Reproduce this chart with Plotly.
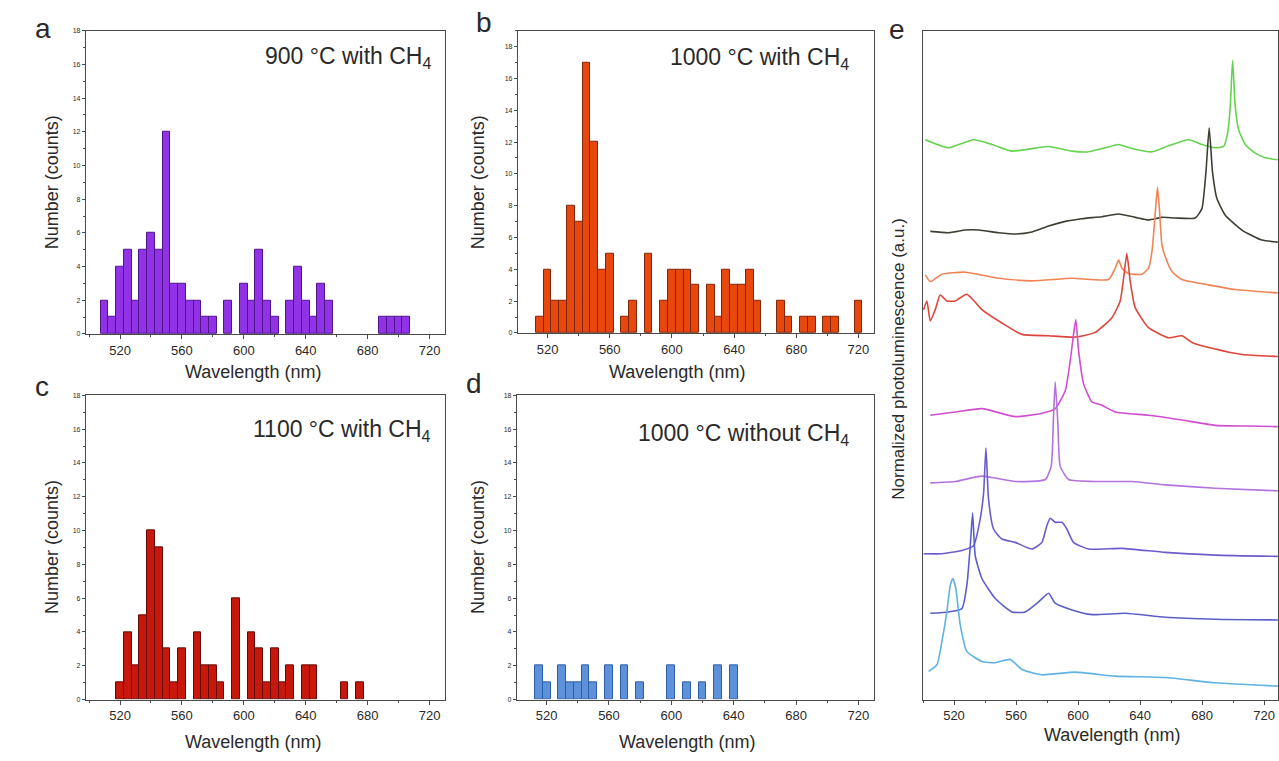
import plotly.graph_objects as go

# ---------------- data ----------------
# histogram bin centres (nm) and counts, 5 nm bins
a_centers = [510, 515, 520, 525, 530, 535, 540, 545, 550, 555, 560, 565, 570, 575, 580, 590,
             600, 605, 610, 615, 620, 630, 635, 640, 645, 650, 655, 690, 695, 700, 705]
a_counts = [2, 1, 4, 5, 2, 5, 6, 5, 12, 3, 3, 2, 2, 1, 1, 2,
            3, 2, 5, 2, 1, 2, 4, 2, 1, 3, 2, 1, 1, 1, 1]

b_centers = [515, 520, 525, 530, 535, 540, 545, 550, 555, 560, 570, 575, 585, 595, 600, 605,
             610, 615, 625, 630, 635, 640, 645, 650, 655, 670, 675, 685, 690, 700, 705, 720]
b_counts = [1, 4, 2, 2, 8, 7, 17, 12, 4, 5, 1, 2, 5, 2, 4, 4,
            4, 3, 3, 1, 4, 3, 3, 4, 2, 2, 1, 1, 1, 1, 1, 2]

c_centers = [520, 525, 530, 535, 540, 545, 550, 555, 560, 570, 575, 580, 585, 595, 605, 610,
             615, 620, 625, 630, 640, 645, 665, 675]
c_counts = [1, 4, 2, 5, 10, 9, 3, 1, 3, 4, 2, 2, 1, 6, 4, 3,
            1, 3, 1, 2, 2, 2, 1, 1]

d_centers = [515, 520, 530, 535, 540, 545, 550, 560, 570, 580, 600, 610, 620, 630, 640]
d_counts = [2, 1, 2, 1, 1, 2, 1, 2, 2, 1, 2, 1, 1, 2, 2]

x_ticks = [520, 560, 600, 640, 680, 720]
x_minor = [500, 540, 580, 620, 660, 700]
y_ticks = [0, 2, 4, 6, 8, 10, 12, 14, 16, 18]

# panel e: stacked normalized PL spectra (wavelength nm, offset intensity a.u.)
green_x = [501.5, 516.5, 532.6, 544.5, 557.4, 568.1, 581.0, 596.1, 606.8, 617.6, 626.2, 634.8,
           647.7, 658.4, 671.3, 679.9, 688.5, 693.9, 696.5, 698.2, 699.7, 701.4, 703.6, 707.9,
           714.3, 720.8, 728.9]
green_y = [83.7, 82.5, 83.7, 83.0, 82.0, 82.3, 82.7, 82.0, 81.9, 82.5, 83.0, 82.4,
           81.9, 82.8, 83.7, 83.0, 82.5, 82.7, 84.7, 88.7, 95.6, 88.7, 85.2, 83.0,
           81.7, 81.0, 80.7]

dark_x = [504.7, 516.5, 527.3, 535.9, 548.8, 559.5, 570.3, 581.0, 591.8, 602.5, 615.4, 626.2,
          636.9, 645.5, 654.1, 662.7, 675.6, 679.9, 682.5, 684.6, 686.8, 689.6, 695.0, 705.7,
          718.6, 728.9]
dark_y = [70.0, 69.8, 70.2, 70.2, 69.8, 69.6, 69.9, 70.8, 71.5, 71.9, 72.2, 72.6,
          72.1, 71.7, 72.1, 72.0, 72.0, 73.4, 78.8, 85.5, 78.8, 74.9, 72.4, 70.2,
          68.7, 68.4]

salmon_x = [501.5, 504.7, 512.2, 527.3, 548.8, 570.3, 596.1, 619.7, 624.0, 626.2, 628.3, 632.6,
            641.2, 645.5, 647.7, 648.9, 650.2, 651.3, 652.6, 654.1, 656.3, 660.6, 667.0, 684.2,
            701.4, 728.9]
salmon_y = [63.5, 62.5, 63.6, 63.9, 63.0, 62.6, 63.0, 62.8, 64.5, 65.7, 64.5, 63.7,
            63.6, 64.5, 67.0, 70.0, 73.9, 76.6, 73.0, 68.0, 66.2, 64.0, 62.8, 62.0,
            61.3, 60.8]

red_x = [500.4, 502.5, 504.7, 507.9, 511.1, 515.4, 520.8, 528.3, 538.0, 550.9, 563.8, 581.0,
         598.2, 611.1, 621.9, 627.2, 629.4, 631.5, 633.7, 636.9, 645.5, 658.4, 667.0, 673.5,
         688.5, 705.7, 728.9]
red_y = [58.3, 59.6, 56.6, 58.3, 60.5, 59.6, 59.6, 60.6, 58.3, 56.3, 54.6, 54.4,
         54.2, 54.9, 57.1, 59.6, 63.0, 66.7, 62.5, 58.6, 55.6, 54.1, 54.4, 53.4,
         52.4, 51.6, 51.3]

magenta_x = [504.7, 520.8, 538.0, 559.5, 576.7, 585.3, 591.8, 595.0, 597.1, 598.6, 600.4, 603.6,
             609.0, 615.4, 624.0, 645.5, 667.0, 688.5, 710.0, 728.9]
magenta_y = [42.5, 43.0, 43.5, 42.3, 42.8, 43.5, 46.2, 50.7, 54.6, 56.8, 52.1, 47.2,
             44.5, 44.0, 43.0, 42.5, 41.8, 41.0, 40.9, 40.8]

violet_x = [504.7, 520.8, 538.0, 559.5, 578.9, 582.7, 584.2, 585.3, 587.0, 588.5, 593.9, 613.3,
            634.8, 656.3, 688.5, 728.9]
violet_y = [32.4, 32.6, 33.4, 32.6, 32.9, 34.9, 42.3, 47.5, 41.3, 34.9, 32.9, 32.6,
            32.6, 32.1, 31.6, 31.2]

indigo_x = [500.4, 512.2, 525.1, 532.6, 536.9, 539.1, 540.6, 542.3, 545.5, 550.9, 559.5, 570.3,
            576.7, 579.9, 582.1, 585.3, 589.6, 592.8, 597.1, 606.8, 628.3, 656.3, 688.5, 728.9]
indigo_y = [21.8, 21.8, 22.3, 23.0, 27.0, 30.9, 37.6, 29.9, 25.5, 24.0, 23.5, 22.5,
            23.5, 26.0, 27.1, 26.5, 26.5, 25.5, 23.5, 22.5, 22.6, 22.0, 21.6, 21.4]

blue_x = [504.7, 516.5, 525.1, 528.3, 530.5, 532.0, 533.7, 538.0, 546.6, 557.4, 566.0, 574.6,
          581.0, 585.3, 596.1, 609.0, 630.5, 656.3, 688.5, 728.9]
blue_y = [12.9, 13.1, 13.6, 17.1, 23.0, 27.9, 21.5, 18.1, 15.1, 13.1, 13.1, 14.6,
          15.9, 14.4, 13.4, 12.7, 12.9, 12.3, 12.0, 11.9]

cyan_x = [503.6, 509.0, 512.2, 515.4, 517.6, 519.3, 521.2, 524.0, 528.3, 538.0, 546.6, 556.3,
          563.8, 576.7, 598.2, 624.0, 656.3, 688.5, 728.9]
cyan_y = [4.2, 5.2, 8.7, 13.1, 17.1, 18.1, 16.6, 11.2, 7.2, 5.7, 5.5, 6.0,
          4.5, 3.7, 4.1, 3.5, 3.3, 2.5, 2.0]

# ---------------- styling / layout ----------------
W, H = 1279, 761
FONT = "Liberation Sans, Arial, Helvetica, sans-serif"
AX = "#4a4a4a"
TXT = "#2a2a2a"


def fx(p):
    return p / W


def fy(p):
    return 1 - p / H


hist_panels = [
    dict(n="", centers=a_centers, counts=a_counts, fill="#9232e6", edge="#4e1688",
         xd=(86, 445), yd=(27, 333), xr=[498, 730], yr=[0, 18]),
    dict(n="2", centers=b_centers, counts=b_counts, fill="#e8480e", edge="#7e2608",
         xd=(518, 874), yd=(27, 332), xr=[501, 730], yr=[0, 19]),
    dict(n="3", centers=c_centers, counts=c_counts, fill="#c8180c", edge="#640805",
         xd=(86, 445), yd=(395, 702), xr=[498, 730], yr=[0, 18]),
    dict(n="4", centers=d_centers, counts=d_counts, fill="#5d92da", edge="#2e5ea6",
         xd=(517, 874), yd=(395, 702), xr=[501, 730], yr=[0, 18]),
]

fig = go.Figure()
layout = dict(
    width=W, height=H,
    margin=dict(l=0, r=0, t=0, b=0),
    paper_bgcolor="white", plot_bgcolor="white",
    font=dict(family=FONT, color=TXT),
    showlegend=False,
    bargap=0,
)


def xaxis_cfg(xd, yref, xr):
    return dict(
        domain=[fx(xd[0]), fx(xd[1])], range=xr, anchor=yref,
        tickmode="array", tickvals=x_ticks, ticks="outside", ticklen=4, tickwidth=1,
        tickcolor=AX, showline=True, linecolor=AX, linewidth=1.2, mirror=True,
        showgrid=False, zeroline=False,
        tickfont=dict(size=13, color=TXT, family=FONT),
        minor=dict(tickmode="array", tickvals=x_minor, ticks="outside", ticklen=2,
                   tickcolor=AX, showgrid=False),
    )


for p in hist_panels:
    n = p["n"]
    xr_name = "x" + n
    yr_name = "y" + n
    fig.add_trace(go.Bar(
        x=p["centers"], y=p["counts"], width=5,
        marker=dict(color=p["fill"], line=dict(color=p["edge"], width=1)),
        xaxis=xr_name, yaxis=yr_name, showlegend=False, hoverinfo="x+y",
    ))
    layout["xaxis" + n] = xaxis_cfg(p["xd"], yr_name, p["xr"])
    layout["yaxis" + n] = dict(
        domain=[fy(p["yd"][1]), fy(p["yd"][0])], range=p["yr"], anchor=xr_name,
        tickmode="array", tickvals=y_ticks, ticks="outside", ticklen=3, tickwidth=1,
        tickcolor=AX, showline=True, linecolor=AX, linewidth=1.2, mirror=True,
        showgrid=False, zeroline=False,
        tickfont=dict(size=7, color=TXT, family=FONT),
        minor=dict(dtick=1, ticks="outside", ticklen=2, tickcolor=AX, showgrid=False),
    )

# panel e
spectra = [
    (green_x, green_y, "#66d24f"),
    (dark_x, dark_y, "#3e3f33"),
    (salmon_x, salmon_y, "#ee8454"),
    (red_x, red_y, "#de453b"),
    (magenta_x, magenta_y, "#cf4fd0"),
    (violet_x, violet_y, "#b273de"),
    (indigo_x, indigo_y, "#6b5ccd"),
    (blue_x, blue_y, "#5a5fc8"),
    (cyan_x, cyan_y, "#5fb2e2"),
]
for sx, sy, col in spectra:
    fig.add_trace(go.Scatter(
        x=sx, y=sy, mode="lines",
        line=dict(color=col, width=1.6, shape="spline", smoothing=0.5),
        xaxis="x5", yaxis="y5", showlegend=False,
    ))
layout["xaxis5"] = xaxis_cfg((923, 1278), "y5", [500, 729])
layout["yaxis5"] = dict(
    domain=[fy(702), fy(27)], range=[0, 100], anchor="x5",
    showticklabels=False, ticks="", showline=True, linecolor=AX, linewidth=1.2,
    mirror=True, showgrid=False, zeroline=False,
)

ann = []


def text(x, y, t, size, xanchor="center", yanchor="middle", angle=0):
    ann.append(dict(x=fx(x), y=fy(y), xref="paper", yref="paper", text=t,
                    showarrow=False, xanchor=xanchor, yanchor=yanchor, textangle=angle,
                    font=dict(size=size, color=TXT, family=FONT)))


# panel letters
text(43, 25, "a", 28)
text(484, 19, "b", 28)
text(42, 386, "c", 28)
text(474, 383, "d", 28)
text(897, 26, "e", 28)

# condition labels
text(433, 54, "900 °C with CH<sub>4</sub>", 23, xanchor="right")
text(851, 55, "1000 °C with CH<sub>4</sub>", 23, xanchor="right")
text(433, 430, "1100 °C with CH<sub>4</sub>", 23, xanchor="right")
text(851, 435, "1000 °C without CH<sub>4</sub>", 23, xanchor="right")

# axis titles
text(253, 371, "Wavelength (nm)", 18)
text(677, 371, "Wavelength (nm)", 18)
text(253, 745, "Wavelength (nm)", 18)
text(687, 745, "Wavelength (nm)", 18)
text(1112, 738, "Wavelength (nm)", 18)
text(52, 180, "Number (counts)", 18, angle=-90)
text(478, 180, "Number (counts)", 18, angle=-90)
text(52, 548, "Number (counts)", 18, angle=-90)
text(478, 548, "Number (counts)", 18, angle=-90)
text(899, 358, "Normalized photoluminescence (a.u.)", 17, angle=-90)

layout["annotations"] = ann
fig.update_layout(**layout)
fig.write_html("out.html",
               config={"displayModeBar": False},
               post_script="document.body.style.margin='0px';document.body.style.overflow='hidden';")
